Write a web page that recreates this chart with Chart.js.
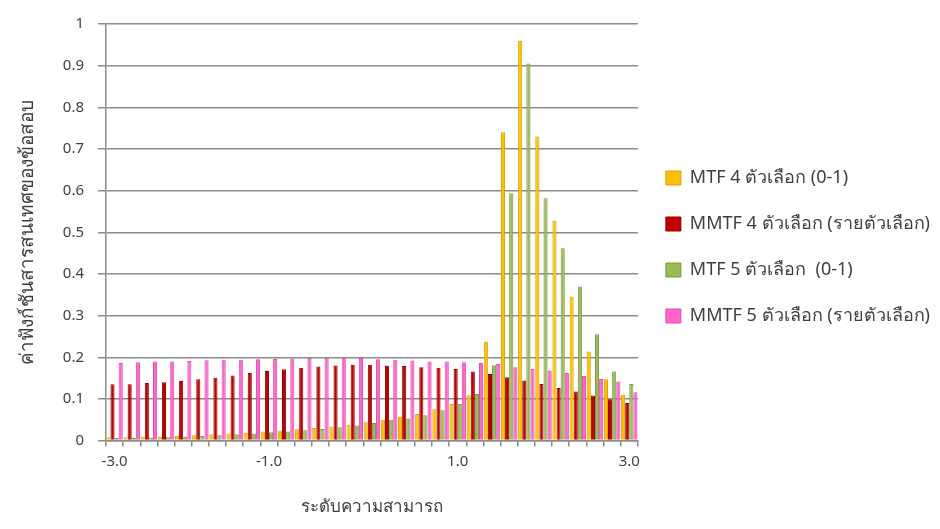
<!DOCTYPE html>
<html>
<head>
<meta charset="utf-8">
<script src="https://cdn.jsdelivr.net/npm/chart.js@4.4.1/dist/chart.umd.min.js"></script>
<style>
  html, body { margin: 0; padding: 0; background: #ffffff; }
  #wrap { width: 940px; height: 529px; position: relative; }
</style>
</head>
<body>
<div id="wrap"><canvas id="c" width="940" height="529"></canvas></div>
<script>
// Ability levels (theta), -3.0 to 3.0
const categories = ['-3.0','-2.8','-2.6','-2.4','-2.2','-2.0','-1.8','-1.6','-1.4','-1.2','-1.0',
  '-0.8','-0.6','-0.4','-0.2','0.0','0.2','0.4','0.6','0.8','1.0',
  '1.2','1.4','1.6','1.8','2.0','2.2','2.4','2.6','2.8','3.0'];
// Tick labels shown under the axis (as placed in the reference)
const tickLabels = ['-3.0','','','','','','','','','-1.0','',
  '','','','','','','','','','1.0',
  '','','','','','','','','','3.0'];
const yTicks = [0, 0.1, 0.2, 0.3, 0.4, 0.5, 0.6, 0.7, 0.8, 0.9, 1];
const yTickLabels = ['0', '0.1', '0.2', '0.3', '0.4', '0.5', '0.6', '0.7', '0.8', '0.9', '1'];

const mtf4 = [0.008,0.008,0.009,0.010,0.011,0.013,0.015,0.017,0.019,0.022,0.024,
  0.027,0.030,0.034,0.038,0.044,0.050,0.057,0.064,0.075,0.088,
  0.109,0.238,0.740,0.960,0.730,0.528,0.346,0.214,0.147,0.110];
const mmtf4 = [0.135,0.135,0.138,0.140,0.143,0.147,0.151,0.156,0.162,0.167,0.171,
  0.175,0.178,0.180,0.182,0.182,0.180,0.179,0.176,0.175,0.172,
  0.166,0.160,0.152,0.144,0.136,0.126,0.118,0.108,0.099,0.090];
const mtf5 = [0.006,0.006,0.007,0.008,0.009,0.011,0.013,0.015,0.017,0.020,0.022,
  0.025,0.028,0.032,0.036,0.042,0.050,0.053,0.061,0.073,0.088,
  0.112,0.181,0.594,0.905,0.582,0.462,0.370,0.255,0.166,0.136];
const mmtf5 = [0.186,0.188,0.190,0.190,0.191,0.193,0.194,0.194,0.195,0.196,0.197,
  0.198,0.199,0.199,0.198,0.195,0.194,0.192,0.190,0.190,0.188,
  0.186,0.184,0.176,0.172,0.168,0.162,0.155,0.148,0.142,0.116];

const seriesNames = ['MTF 4 ตัวเลือก (0-1)', 'MMTF 4 ตัวเลือก (รายตัวเลือก)', 'MTF 5 ตัวเลือก  (0-1)', 'MMTF 5 ตัวเลือก (รายตัวเลือก)'];
const yTitle = 'ค่าฟังก์ชันสารสนเทศของข้อสอบ';
const xTitle = 'ระดับความสามารถ';

const FONT = 'Tahoma, "Noto Sans", "DejaVu Sans", sans-serif';
const TXT = '#404040';
const GRID = '#8c8c8c';

function ds(label, data, color, border) {
  return { label, data, backgroundColor: color, borderColor: border, borderWidth: 1,
    categoryPercentage: 0.96, barPercentage: 1.0 };
}

// Let the right-hand legend take the width its labels need
const wideLegend = {
  id: 'wideLegend',
  beforeLayout(chart) {
    const lg = chart.legend;
    if (lg && !lg._wide) {
      const orig = lg.update.bind(lg);
      lg.update = (maxWidth, maxHeight, margins) => orig(Math.max(maxWidth, 320), maxHeight, margins);
      lg._wide = true;
    }
  }
};

new Chart(document.getElementById('c'), {
  type: 'bar',
  data: {
    labels: categories,
    datasets: [
      ds(seriesNames[0], mtf4, '#FFC000', '#D9A300'),
      ds(seriesNames[1], mmtf4, '#C00000', '#8F0000'),
      ds(seriesNames[2], mtf5, '#9BBB59', '#7A9645'),
      ds(seriesNames[3], mmtf5, '#FF66CC', '#D94FAD')
    ]
  },
  plugins: [wideLegend],
  options: {
    responsive: false,
    animation: false,
    layout: { padding: { left: 16, right: 0, top: 24, bottom: 12 } },
    plugins: {
      tooltip: { enabled: false },
      legend: {
        position: 'right',
        fullSize: false,
        title: { display: true, text: ' ', font: { size: 12 }, padding: { top: 0, bottom: 15 } },
        labels: {
          font: { family: FONT, size: 18 },
          color: TXT,
          boxWidth: 15, boxHeight: 14,
          padding: 28
        }
      }
    },
    scales: {
      x: {
        offset: true,
        grid: { display: true, drawOnChartArea: false, drawTicks: true, tickLength: 6, offset: true, color: GRID, lineWidth: 1.5 },
        border: { display: true, color: GRID, width: 1.5 },
        ticks: {
          autoSkip: false, maxRotation: 0, minRotation: 0, padding: 6,
          font: { family: FONT, size: 15 }, color: TXT,
          callback: (v, i) => tickLabels[i]
        },
        title: { display: true, text: xTitle, font: { family: FONT, size: 17 }, color: TXT, padding: { top: 20, bottom: 0 } }
      },
      y: {
        min: 0, max: 1,
        afterBuildTicks: axis => { axis.ticks = yTicks.map(v => ({ value: v })); },
        grid: { color: GRID, lineWidth: 1.5, tickLength: 8, drawTicks: true },
        border: { display: true, color: GRID, width: 1.5 },
        ticks: {
          padding: 14,
          font: { family: FONT, size: 15 }, color: TXT,
          callback: (v, i) => yTickLabels[i]
        },
        title: { display: true, text: yTitle, font: { family: FONT, size: 19 }, color: TXT, padding: { top: 0, bottom: 10 } }
      }
    }
  }
});
</script>
</body>
</html>
